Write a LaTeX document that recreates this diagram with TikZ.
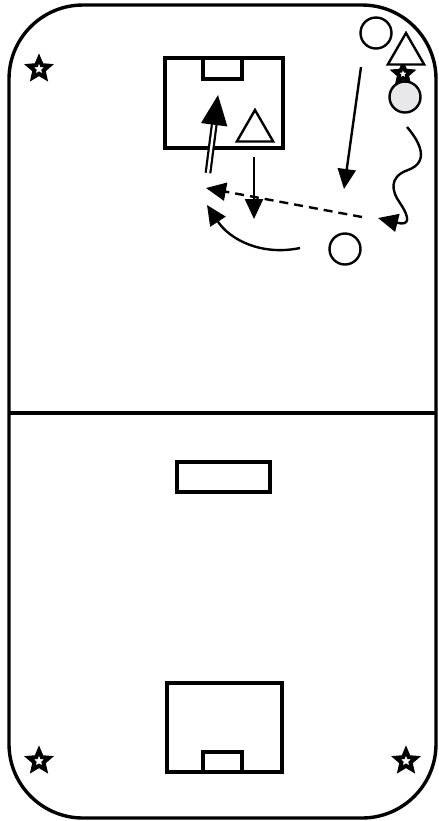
\documentclass[tikz,border=0pt]{standalone}
\usepackage{tikz}
\usetikzlibrary{arrows.meta,positioning,shapes.geometric}
\usepackage{xcolor}
\definecolor{BallGray}{RGB}{232,232,234}
\tikzset{
  pitchline/.style={draw=black,line width=1.7pt},
  player/.style={draw=black,circle,line width=1.2pt,minimum size=15.5pt,
    inner sep=0pt,fill=white},
  defender/.style={draw=black,regular polygon,regular polygon sides=3,
    line width=1.2pt,minimum size=21pt,inner sep=0pt,fill=white},
  cone/.style={draw=black,star,star points=5,star point ratio=2.2,
    line width=2pt,minimum size=10.5pt,inner sep=0pt,fill=white},
  runarrow/.style={-{Triangle[length=10pt,width=9pt]},line width=1.2pt},
  passarrow/.style={runarrow,dash pattern=on 4.5pt off 3pt},
  shotarrow/.style={-{Triangle[length=15pt,width=13pt]},
    double,double distance=1.2pt,line width=1.1pt},
}

\begin{document}
\begin{tikzpicture}[x=0.5pt,y=-0.5pt]
\useasboundingbox (0,0) rectangle (439,821);
% pitch
\draw[pitchline,rounded corners=37pt] (9,5) rectangle (436,818);
\draw[pitchline] (9,413) -- (436,413);
\draw[pitchline] (165,58) rectangle (283,148);
\draw[pitchline] (203,58) rectangle (242,79);
\draw[pitchline] (177,462) rectangle (270,492);
\draw[pitchline] (167,683) rectangle (282,772);
\draw[pitchline] (203,752) rectangle (242,772);
% cones
\node[cone] (c1) at (39,69) {};
\node[cone] (c2) at (39,761) {};
\node[cone] (c3) at (406,761) {};
\node[cone,minimum size=9pt] (c4) at (403,74) {};
% players
\node[player] (a1) at (376,33) {};
\node[defender] (d1) at (406,54) {};
\node[player,fill=BallGray] (a2) at (405,97) {};
\node[player] (a3) at (345,249) {};
\node[defender] (d2) at (255,131) {};
% arrow ends
\coordinate (r1s) at (361,67);
\coordinate (r1e) at (344,189);
\coordinate (r2s) at (254,157);
\coordinate (r2e) at (254,219);
\coordinate (p1s) at (362,217);
\coordinate (p1e) at (206,188);
\coordinate (q1s) at (300,248);
\coordinate (q1e) at (207,205);
\coordinate (s1s) at (208,173);
\coordinate (s1e) at (218,95);
\coordinate (b1s) at (407,127);
\coordinate (b1e) at (378,218);
% movements
\draw[runarrow] (r1s) -- (r1e);
\draw[runarrow] (r2s) -- (r2e);
\draw[passarrow] (p1s) -- (p1e);
\draw[runarrow] (q1s) .. controls (262,256) and (230,240) .. (q1e);
\draw[shotarrow] (s1s) -- (s1e);
\draw[runarrow] (b1s) .. controls (420,142) and (430,162) .. (408,170)
  .. controls (388,177) and (392,192) .. (400,203)
  .. controls (410,218) and (410,226) .. (b1e);
\end{tikzpicture}
\end{document}
